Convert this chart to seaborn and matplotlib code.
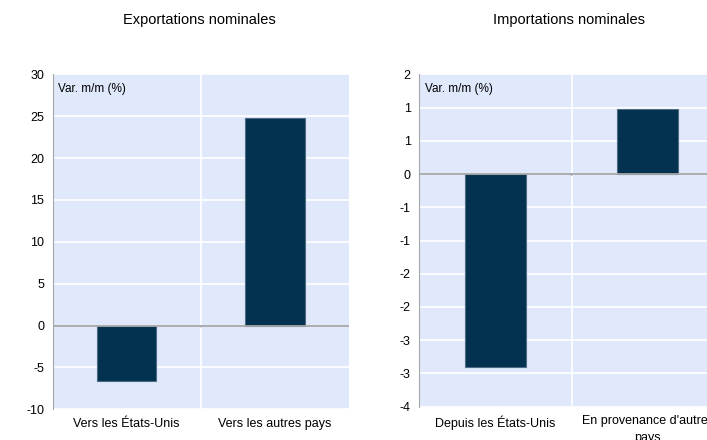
# Commerce international : exportations et importations nominales
import numpy as np
import matplotlib
matplotlib.use('Agg')
import matplotlib.pyplot as plt
import matplotlib.ticker as mticker
import seaborn as sns
import pandas as pd

exp_categories = ['Vers les États-Unis', 'Vers les autres pays']
exp_values = [-6.6, 24.8]
imp_categories = ['Depuis les États-Unis', "En provenance d'autres\npays"]
imp_values = [-2.9, 0.98]

BAR = '#02324f'
FOND = '#dfe9fb'
GRIS = '#a6a6a6'

sns.set_style('white', {'axes.facecolor': FOND})
plt.rcParams['font.family'] = ['Liberation Sans', 'DejaVu Sans']
plt.rcParams['axes.unicode_minus'] = False
plt.rcParams['text.color'] = 'black'
plt.rcParams['xtick.color'] = 'black'
plt.rcParams['ytick.color'] = 'black'


def excel_round(v, pos):
    r = int(np.sign(v) * np.floor(abs(v) + 0.5))
    return f'{r}'


def dessiner(ax, cats, vals, ymin, ymax, step, fmt=None):
    df = pd.DataFrame({'Categorie': cats, 'Valeur': vals})
    sns.barplot(data=df, x='Categorie', y='Valeur', color=BAR, width=0.4,
                saturation=1, edgecolor='#4d6b84', linewidth=0.8, ax=ax, zorder=3)
    ax.set_xlim(-0.5, 1.5)
    ax.set_ylim(ymin, ymax)
    ax.set_yticks(np.arange(ymin, ymax + step / 2, step))
    if fmt is not None:
        ax.yaxis.set_major_formatter(mticker.FuncFormatter(fmt))
    ax.grid(axis='y', color='white', linewidth=1.2, zorder=0)
    ax.axvline(0.5, color='white', linewidth=1.2, zorder=0)
    ax.axhline(0, color=GRIS, linewidth=1.3, zorder=4)
    # petit repere entre les categories sur l'axe zero
    ax.annotate('', xy=(0.5, 0), xytext=(0, -3), textcoords='offset points',
                arrowprops=dict(arrowstyle='-', color=GRIS, lw=1), zorder=4)
    ax.set_axisbelow(True)
    for s in ['top', 'right', 'bottom']:
        ax.spines[s].set_visible(False)
    ax.spines['left'].set_color(GRIS)
    ax.tick_params(axis='y', length=4, color=GRIS, labelsize=9, pad=2)
    ax.tick_params(axis='x', length=0, labelsize=9, pad=6)
    for lab in ax.get_xticklabels():
        lab.set_linespacing(1.5)
    ax.set_xlabel('')
    ax.set_ylabel('')
    ax.text(0.02, 0.975, 'Var. m/m (%)', transform=ax.transAxes,
            fontsize=8.5, va='top', ha='left')


fig = plt.figure(figsize=(7.07, 4.40), dpi=100)
ax1 = fig.add_axes([52.5 / 707, (440 - 409.3) / 440, 296.5 / 707, 335 / 440])
ax2 = fig.add_axes([419 / 707, (440 - 406.7) / 440, 305 / 707, 332.4 / 440])

dessiner(ax1, exp_categories, exp_values, -10, 30, 5)
dessiner(ax2, imp_categories, imp_values, -3.5, 1.5, 0.5, excel_round)

fig.text(199 / 707, 1 - 20 / 440, 'Exportations nominales', ha='center',
         va='center', fontsize=10.5)
fig.text(569 / 707, 1 - 20 / 440, 'Importations nominales', ha='center',
         va='center', fontsize=10.5)

fig.savefig('out.png', dpi=100)
